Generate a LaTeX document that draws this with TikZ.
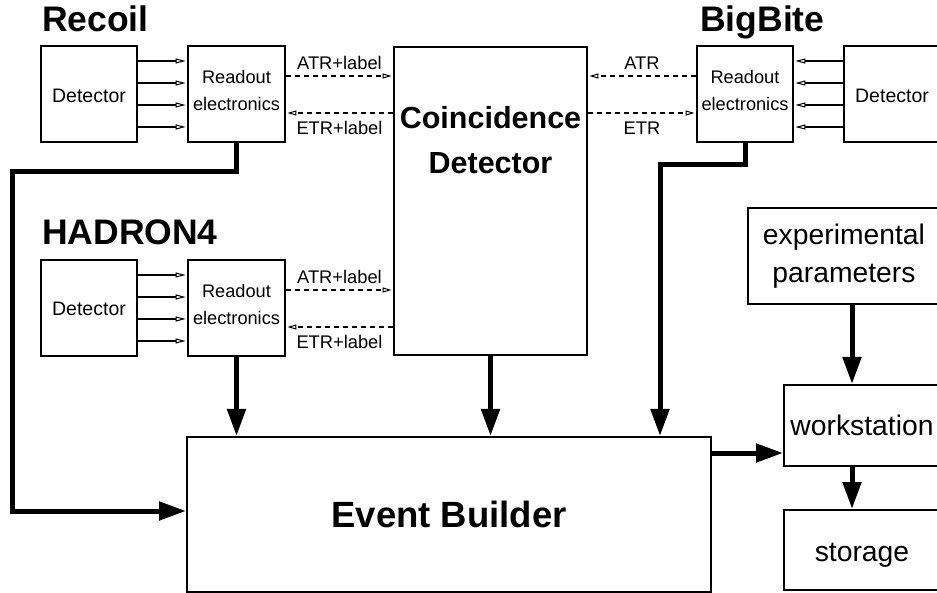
\documentclass[tikz,border=0pt]{standalone}
\usepackage{fontspec}
\setmainfont{Liberation Sans}
\usetikzlibrary{arrows.meta}
\newcommand\FsDet{\fontsize{19.5}{23}\selectfont}
\newcommand\FsRO{\fontsize{18.2}{27}\selectfont}
\newcommand\FsLab{\fontsize{18.3}{22}\selectfont}
\newcommand\FsTitle{\fontsize{35.5}{40}\selectfont\bfseries}
\newcommand\FsCoin{\fontsize{30.5}{45}\selectfont\bfseries}
\newcommand\FsEB{\fontsize{36.5}{40}\selectfont\bfseries}
\newcommand\FsRight{\fontsize{28.3}{38}\selectfont}
\begin{document}
\begin{tikzpicture}[x=1pt,y=-1pt,
  box/.style={draw, line width=2.4pt, inner sep=0pt, align=center},
  detbox/.style={box, minimum width=96pt, minimum height=96pt, font=\FsDet},
  robox/.style={box, minimum width=97pt, minimum height=96pt},
  rotext/.style={font=\FsRO, align=center, inner sep=0pt},
  rbox/.style={draw, line width=2pt, inner sep=0pt, align=center, font=\FsRight},
  title/.style={font=\FsTitle, anchor=base west, inner sep=0pt},
  lab/.style={font=\FsLab, inner sep=0pt, anchor=base},
  sig/.style={line width=1.2pt, -{Triangle[length=10pt,width=5pt,fill=white,line width=1pt]}, shorten >=1.2pt},
  dsig/.style={line width=1.1pt, dash pattern=on 5pt off 4pt, -{Triangle[length=9pt,width=5pt,fill=white,line width=1pt]}, shorten >=1.2pt},
  big/.style={line width=5pt, -{Triangle[length=27pt,width=18pt]}}]
\useasboundingbox (0,0) rectangle (937,593);

% titles
\node[title] (trec) at (42,32) {Recoil};
\node[title] (tbb) at (700,32) {BigBite};
\node[title] (thad) at (42,245) {HADRON4};

% boxes
\node[detbox] (recdet) at (89,94) {};
\node[font=\FsDet, inner sep=0pt] (recdett) at (89,96) {Detector};
\node[robox] (recro) at (236.5,94) {};
\node[rotext] (recrot) at (236.5,90.5) {Readout\\electronics};
\node[detbox] (haddet) at (89,308) {};
\node[font=\FsDet, inner sep=0pt] (haddett) at (89,309) {Detector};
\node[robox] (hadro) at (236.5,308) {};
\node[rotext] (hadrot) at (236.5,304.5) {Readout\\electronics};
\node[robox, minimum width=96pt] (bbro) at (745,94) {};
\node[rotext] (bbrot) at (745,90.5) {Readout\\electronics};
\node[detbox] (bbdet) at (892,94) {};
\node[font=\FsDet, inner sep=0pt] (bbdett) at (892,96) {Detector};
\node[box, minimum width=193pt, minimum height=308pt] (coinc) at (490.5,201) {};
\node[font=\FsCoin, align=center, inner sep=0pt] (coinctext) at (490.5,140.5) {Coincidence\\Detector};
\node[draw, line width=2pt, inner sep=0pt, minimum width=524pt, minimum height=155pt, font=\FsEB] (eb) at (449,514.5) {Event Builder};
\node[rbox, minimum width=192pt, minimum height=96pt] (exp) at (844,256) {experimental\\parameters};
\node[rbox, minimum width=156pt, minimum height=81pt] (ws) at (862,425.5) {workstation};
\node[rbox, minimum width=156pt, minimum height=80pt] (st) at (862,550) {};
\node[font=\FsRight, inner sep=0pt] (stt) at (862,555) {storage};

% detector signal lines
\foreach \d in {33,11,-11,-33} {
  \draw[sig] ([yshift=\d pt]recdet.east) -- ([yshift=\d pt]recro.west);
  \draw[sig] ([yshift=\d pt]haddet.east) -- ([yshift=\d pt]hadro.west);
  \draw[sig] ([yshift=\d pt]bbdet.west) -- ([yshift=\d pt]bbro.east);
}

% trigger lines
\coordinate (ra) at ([yshift=18pt]recro.east);
\coordinate (re) at ([yshift=-19pt]recro.east);
\draw[dsig] (ra) -- (ra -| coinc.west) node[lab, midway, yshift=6.5pt] (l1) {ATR+label};
\draw[dsig] (re -| coinc.west) -- (re) node[lab, midway, yshift=-21.5pt] (l2) {ETR+label};
\coordinate (ha) at ([yshift=18pt]hadro.east);
\coordinate (he) at ([yshift=-19pt]hadro.east);
\draw[dsig] (ha) -- (ha -| coinc.west) node[lab, midway, yshift=6.5pt] (l3) {ATR+label};
\draw[dsig] (he -| coinc.west) -- (he) node[lab, midway, yshift=-21.5pt] (l4) {ETR+label};
\coordinate (ba) at ([yshift=18pt]bbro.west);
\coordinate (be) at ([yshift=-19pt]bbro.west);
\draw[dsig] (ba) -- (ba -| coinc.east) node[lab, midway, yshift=6.5pt] (l5) {ATR};
\draw[dsig] (be -| coinc.east) -- (be) node[lab, midway, yshift=-21.5pt] (l6) {ETR};

% data lines
\coordinate (rc1) at (12,172);
\draw[big] (recro.south) |- (rc1) |- ([yshift=3.5pt]eb.west);
\draw[big] (hadro.south) -- (hadro.south |- eb.north);
\draw[big] (coinc.south) -- (coinc.south |- eb.north);
\coordinate (bc1) at (660,165);
\draw[big] (bbro.south) |- (bc1) -- (bc1 |- eb.north);
\coordinate (wsin) at ([yshift=-27.5pt]ws.west);
\draw[big] (wsin -| eb.east) -- (wsin);
\coordinate (expout) at ([xshift=8pt]exp.south);
\draw[big] (expout) -- (expout |- ws.north);
\coordinate (wsout) at ([xshift=-10pt]ws.south);
\draw[big] (wsout) -- (wsout |- st.north);
\end{tikzpicture}
\end{document}
